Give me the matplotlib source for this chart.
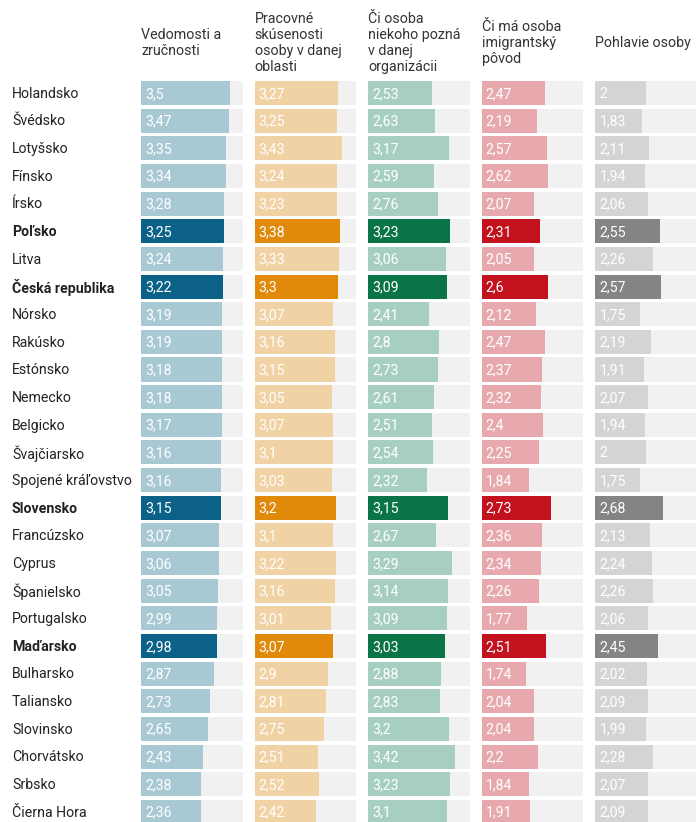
import matplotlib
matplotlib.use("Agg")
import matplotlib.pyplot as plt
import matplotlib.transforms as transforms

plt.rcParams['font.family'] = ['Roboto', 'DejaVu Sans']

countries = ["Holandsko", "Švédsko", "Lotyšsko", "Fínsko", "Írsko", "Poľsko", "Litva",
             "Česká republika", "Nórsko", "Rakúsko", "Estónsko", "Nemecko", "Belgicko",
             "Švajčiarsko", "Spojené kráľovstvo", "Slovensko", "Francúzsko", "Cyprus",
             "Španielsko", "Portugalsko", "Maďarsko", "Bulharsko", "Taliansko", "Slovinsko",
             "Chorvátsko", "Srbsko", "Čierna Hora"]
highlight = ["Poľsko", "Česká republika", "Slovensko", "Maďarsko"]

headers = ["Vedomosti a\nzručnosti",
           "Pracovné\nskúsenosti\nosoby v danej\noblasti",
           "Či osoba\nniekoho pozná\nv danej\norganizácii",
           "Či má osoba\nimigrantský\npôvod",
           "Pohlavie osoby"]

vedomosti = [3.5, 3.47, 3.35, 3.34, 3.28, 3.25, 3.24, 3.22, 3.19, 3.19, 3.18, 3.18, 3.17, 3.16,
             3.16, 3.15, 3.07, 3.06, 3.05, 2.99, 2.98, 2.87, 2.73, 2.65, 2.43, 2.38, 2.36]
skusenosti = [3.27, 3.25, 3.43, 3.24, 3.23, 3.38, 3.33, 3.3, 3.07, 3.16, 3.15, 3.05, 3.07, 3.1,
              3.03, 3.2, 3.1, 3.22, 3.16, 3.01, 3.07, 2.9, 2.81, 2.75, 2.51, 2.52, 2.42]
znamosti = [2.53, 2.63, 3.17, 2.59, 2.76, 3.23, 3.06, 3.09, 2.41, 2.8, 2.73, 2.61, 2.51, 2.54,
            2.32, 3.15, 2.67, 3.29, 3.14, 3.09, 3.03, 2.88, 2.83, 3.2, 3.42, 3.23, 3.1]
povod = [2.47, 2.19, 2.57, 2.62, 2.07, 2.31, 2.05, 2.6, 2.12, 2.47, 2.37, 2.32, 2.4, 2.25,
         1.84, 2.73, 2.36, 2.34, 2.26, 1.77, 2.51, 1.74, 2.04, 2.04, 2.2, 1.84, 1.91]
pohlavie = [2, 1.83, 2.11, 1.94, 2.06, 2.55, 2.26, 2.57, 1.75, 2.19, 1.91, 2.07, 1.94, 2,
            1.75, 2.68, 2.13, 2.24, 2.26, 2.06, 2.45, 2.02, 2.09, 1.99, 2.28, 2.07, 2.09]

columns = [vedomosti, skusenosti, znamosti, povod, pohlavie]
pale_colors = ["#a8c8d4", "#f1d2a5", "#a6cfc0", "#e8a9ae", "#d4d4d4"]
dark_colors = ["#0c6189", "#e0890b", "#0b7446", "#c3121d", "#848484"]
max_value = 4

W, H = 696, 822
fig = plt.figure(figsize=(W / 100, H / 100), dpi=100)
fig.patch.set_facecolor("white")

row_h = 27.65
first_row = 93
col_x0 = 141
col_step = 113.6
col_w = 101.6
n = len(countries)
ax_top = first_row - row_h / 2
ax_height = n * row_h

axes = []
for i, (vals, pale, dark) in enumerate(zip(columns, pale_colors, dark_colors)):
    left = col_x0 + i * col_step
    ax = fig.add_axes([left / W, 1 - (ax_top + ax_height) / H, col_w / W, ax_height / H])
    ax.set_xlim(0, max_value)
    ax.set_ylim(n - 0.5, -0.5)
    ax.axis("off")
    ypos = list(range(n))
    ax.barh(ypos, [max_value] * n, height=0.87, color="#f1f1f1", zorder=1)
    colors = [dark if c in highlight else pale for c in countries]
    ax.barh(ypos, vals, height=0.87, color=colors, zorder=2)
    for y, v, c in zip(ypos, vals, countries):
        txt = f"{v:g}".replace(".", ",")
        ax.text(0.16, y + 0.03, txt, color="white", fontsize=10.2, va="center", ha="left", zorder=3)
    fig.text(left / W, 1 - 43 / H, headers[i], fontsize=10.3, color="#333333",
             ha="left", va="center", linespacing=1.2)
    axes.append(ax)

trans = transforms.blended_transform_factory(fig.transFigure, axes[0].transData)
for y, c in enumerate(countries):
    axes[0].text(12 / W, y + 0.03, c, transform=trans, fontsize=10.2, color="#222222",
                 ha="left", va="center", fontweight="bold" if c in highlight else "normal",
                 clip_on=False)

fig.savefig("out.png", dpi=100, facecolor="white")
